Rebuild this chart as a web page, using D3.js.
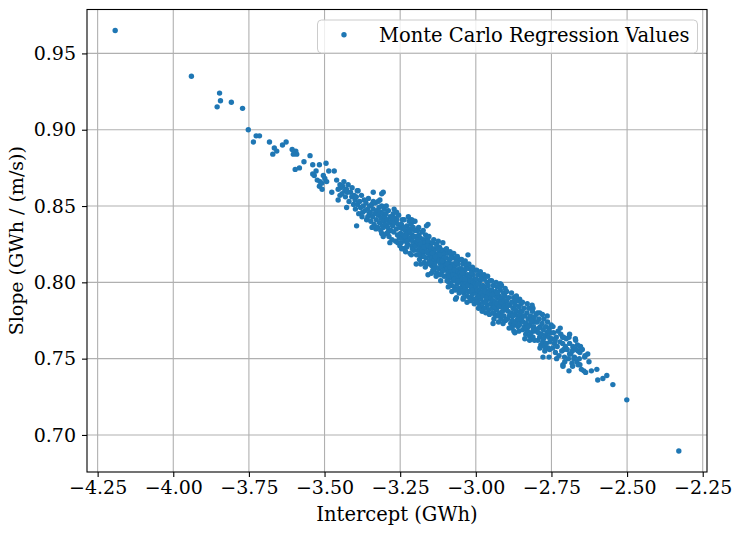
<!DOCTYPE html>
<html><head><meta charset="utf-8">
<script src="https://cdn.jsdelivr.net/npm/d3@7"></script>
<style>body{margin:0;background:#fff} text{font-family:"DejaVu Serif",serif;fill:#000}</style>
</head><body><svg id="c" width="743" height="533"></svg>
<script>
// [intercept (GWh), slope (GWh/(m/s))]
const upperLeftTail = [[-4.192,0.965],[-3.940,0.935],[-3.847,0.924],[-3.844,0.919],[-3.855,0.915],[-3.808,0.918],[-3.771,0.914],[-3.752,0.900],[-3.735,0.892],[-3.726,0.896],[-3.715,0.896],[-3.682,0.892],[-3.666,0.888],[-3.671,0.884],[-3.658,0.886],[-3.639,0.890],[-3.627,0.892],[-3.607,0.887],[-3.595,0.886],[-3.592,0.884],[-3.603,0.884],[-3.548,0.883],[-3.568,0.879],[-3.597,0.874],[-3.583,0.875],[-3.539,0.877],[-3.517,0.877],[-3.495,0.878],[-3.539,0.871],[-3.534,0.870],[-3.524,0.867],[-3.528,0.873],[-3.515,0.866],[-3.509,0.865],[-3.517,0.863],[-3.508,0.861],[-3.493,0.866],[-3.499,0.868],[-3.504,0.870],[-3.486,0.873],[-3.468,0.873],[-3.476,0.859],[-3.460,0.867],[-3.449,0.864],[-3.440,0.863],[-3.455,0.861],[-3.433,0.860],[-3.422,0.864],[-3.425,0.859],[-3.449,0.857],[-3.455,0.854],[-3.427,0.849],[-3.410,0.856],[-3.399,0.854],[-3.389,0.860],[-3.394,0.837],[-3.339,0.859],[-3.306,0.859],[-3.317,0.854],[-3.339,0.853],[-3.311,0.858],[-3.330,0.835],[-3.306,0.836],[-3.311,0.832],[-3.306,0.830]];
const bandOutliers = [[-3.212,0.841],[-3.201,0.840],[-3.163,0.837],[-3.251,0.824],[-3.207,0.823],[-3.158,0.838],[-3.026,0.818],[-3.158,0.805],[-3.130,0.805],[-3.064,0.790],[-2.915,0.798],[-2.855,0.789],[-2.921,0.799],[-3.067,0.789],[-3.042,0.789],[-2.943,0.773],[-2.871,0.767],[-2.789,0.780],[-2.811,0.783]];
const bandUpper = [
[-3.447,0.862],[-3.442,0.858],[-3.436,0.866],[-3.431,0.856],[-3.428,0.861],[-3.419,0.853],[-3.414,0.859],[-3.409,0.862],[-3.404,0.851],[-3.402,0.857],
[-3.398,0.848],[-3.395,0.856],[-3.391,0.851],[-3.387,0.845],[-3.384,0.853],[-3.381,0.849],[-3.378,0.857],[-3.376,0.843],[-3.372,0.850],[-3.369,0.854],[-3.366,0.847],[-3.363,0.852],[-3.361,0.841],[-3.358,0.848],[-3.355,0.855],[-3.352,0.845],[-3.351,0.850],[-3.392,0.860],[-3.374,0.846],[-3.357,0.843],
[-3.349,0.846],[-3.347,0.840],[-3.344,0.851],[-3.341,0.843],[-3.339,0.848],[-3.336,0.838],[-3.334,0.845],[-3.332,0.852],[-3.329,0.841],[-3.327,0.847],[-3.325,0.836],[-3.322,0.844],[-3.320,0.849],[-3.318,0.839],[-3.316,0.846],[-3.313,0.842],[-3.311,0.850],[-3.309,0.837],[-3.307,0.845],[-3.305,0.840],[-3.303,0.848],[-3.301,0.843],[-3.343,0.836],[-3.323,0.853],[-3.314,0.834],
[-3.299,0.838],[-3.297,0.845],[-3.295,0.832],[-3.293,0.841],[-3.291,0.836],[-3.289,0.847],[-3.287,0.830],[-3.285,0.839],[-3.283,0.843],[-3.281,0.834],[-3.279,0.840],[-3.277,0.828],[-3.275,0.837],[-3.273,0.845],[-3.271,0.833],[-3.269,0.839],[-3.267,0.842],[-3.265,0.827],[-3.263,0.835],[-3.261,0.841],[-3.259,0.831],[-3.257,0.838],[-3.255,0.844],[-3.253,0.829],[-3.251,0.836],[-3.296,0.850],[-3.284,0.826],[-3.270,0.848],[-3.262,0.846],[-3.258,0.826],[-3.290,0.833],[-3.276,0.842],
[-3.249,0.832],[-3.247,0.826],[-3.246,0.838],[-3.244,0.829],[-3.242,0.835],[-3.240,0.822],[-3.239,0.831],[-3.237,0.841],[-3.235,0.827],[-3.233,0.834],[-3.232,0.820],[-3.230,0.830],[-3.228,0.837],[-3.226,0.825],[-3.225,0.832],[-3.223,0.843],[-3.221,0.828],[-3.219,0.835],[-3.218,0.819],[-3.216,0.829],[-3.214,0.838],[-3.212,0.824],[-3.211,0.831],[-3.209,0.827],[-3.207,0.836],[-3.205,0.821],[-3.204,0.830],[-3.202,0.834],[-3.201,0.825],[-3.245,0.822],[-3.238,0.836],[-3.229,0.823],[-3.220,0.840],[-3.213,0.818],[-3.206,0.840],[-3.234,0.830],[-3.217,0.833],[-3.210,0.822],[-3.243,0.841],[-3.227,0.827]];
const bandMiddle = [
[-3.199,0.824],[-3.198,0.830],[-3.196,0.818],[-3.195,0.827],[-3.193,0.834],[-3.191,0.821],[-3.190,0.826],[-3.188,0.831],[-3.186,0.815],[-3.185,0.823],[-3.183,0.829],[-3.181,0.819],[-3.180,0.825],[-3.178,0.833],[-3.176,0.817],[-3.175,0.822],[-3.173,0.828],[-3.171,0.813],[-3.170,0.820],[-3.168,0.826],[-3.166,0.831],[-3.165,0.816],[-3.163,0.823],[-3.161,0.829],[-3.160,0.812],[-3.158,0.819],[-3.156,0.825],[-3.155,0.830],[-3.153,0.814],[-3.151,0.821],[-3.197,0.812],[-3.189,0.836],[-3.182,0.812],[-3.174,0.834],[-3.167,0.810],[-3.162,0.820],[-3.157,0.827],[-3.152,0.817],[-3.184,0.826],[-3.177,0.820],[-3.169,0.823],[-3.159,0.824],[-3.192,0.828],[-3.187,0.818],[-3.172,0.817],
[-3.149,0.818],[-3.148,0.823],[-3.146,0.811],[-3.145,0.816],[-3.143,0.826],[-3.141,0.813],[-3.140,0.820],[-3.138,0.808],[-3.137,0.815],[-3.135,0.822],[-3.133,0.810],[-3.132,0.818],[-3.130,0.825],[-3.128,0.806],[-3.127,0.814],[-3.125,0.819],[-3.123,0.809],[-3.122,0.817],[-3.120,0.823],[-3.118,0.805],[-3.117,0.812],[-3.115,0.820],[-3.113,0.815],[-3.112,0.807],[-3.110,0.821],[-3.108,0.811],[-3.107,0.817],[-3.105,0.804],[-3.103,0.813],[-3.102,0.819],[-3.101,0.809],[-3.147,0.806],[-3.139,0.828],[-3.131,0.804],[-3.124,0.827],[-3.116,0.801],[-3.109,0.826],[-3.144,0.819],[-3.136,0.812],[-3.129,0.816],[-3.121,0.814],[-3.114,0.810],[-3.106,0.816],[-3.142,0.808],[-3.126,0.822],[-3.119,0.818],[-3.111,0.814],[-3.134,0.817],[-3.104,0.808],[-3.150,0.813],
[-3.099,0.811],[-3.098,0.816],[-3.096,0.804],[-3.095,0.809],[-3.093,0.819],[-3.092,0.806],[-3.090,0.813],[-3.089,0.800],[-3.087,0.808],[-3.086,0.815],[-3.084,0.803],[-3.083,0.811],[-3.081,0.818],[-3.080,0.798],[-3.078,0.806],[-3.077,0.812],[-3.075,0.801],[-3.074,0.809],[-3.072,0.816],[-3.071,0.797],[-3.069,0.805],[-3.068,0.811],[-3.066,0.802],[-3.065,0.808],[-3.063,0.814],[-3.062,0.799],[-3.060,0.806],[-3.059,0.812],[-3.057,0.796],[-3.056,0.803],[-3.054,0.809],[-3.053,0.815],[-3.051,0.800],[-3.097,0.822],[-3.091,0.797],[-3.085,0.820],[-3.079,0.794],[-3.073,0.819],[-3.067,0.795],[-3.061,0.817],[-3.055,0.793],[-3.094,0.812],[-3.088,0.804],[-3.082,0.807],[-3.076,0.805],[-3.070,0.808],[-3.064,0.804],[-3.058,0.807],[-3.052,0.806],[-3.095,0.801],[-3.083,0.816],[-3.071,0.802],[-3.059,0.801],[-3.086,0.810],[-3.066,0.813],
[-3.049,0.804],[-3.048,0.809],[-3.046,0.797],[-3.045,0.802],[-3.043,0.812],[-3.042,0.799],[-3.040,0.806],[-3.039,0.793],[-3.037,0.801],[-3.036,0.808],[-3.034,0.796],[-3.033,0.804],[-3.031,0.811],[-3.030,0.791],[-3.028,0.799],[-3.027,0.805],[-3.025,0.794],[-3.024,0.802],[-3.022,0.809],[-3.021,0.790],[-3.019,0.798],[-3.018,0.804],[-3.016,0.795],[-3.015,0.801],[-3.013,0.807],[-3.012,0.792],[-3.010,0.799],[-3.009,0.805],[-3.007,0.789],[-3.006,0.796],[-3.004,0.802],[-3.003,0.808],[-3.001,0.793],[-3.047,0.815],[-3.041,0.790],[-3.035,0.814],[-3.029,0.787],[-3.023,0.812],[-3.017,0.788],[-3.011,0.810],[-3.005,0.786],[-3.044,0.806],[-3.038,0.798],[-3.032,0.800],[-3.026,0.798],[-3.020,0.801],[-3.014,0.797],[-3.008,0.800],[-3.002,0.799],[-3.046,0.794],[-3.033,0.809],[-3.020,0.794],[-3.009,0.795],[-3.036,0.802],[-3.015,0.806]];
const bandLower = [
[-2.999,0.797],[-2.998,0.802],[-2.996,0.790],[-2.995,0.795],[-2.993,0.805],[-2.992,0.792],[-2.990,0.799],[-2.989,0.786],[-2.987,0.794],[-2.986,0.801],[-2.984,0.789],[-2.983,0.797],[-2.981,0.804],[-2.980,0.784],[-2.978,0.792],[-2.977,0.798],[-2.975,0.787],[-2.974,0.795],[-2.972,0.802],[-2.971,0.783],[-2.969,0.791],[-2.968,0.797],[-2.966,0.788],[-2.965,0.794],[-2.963,0.800],[-2.962,0.785],[-2.960,0.792],[-2.959,0.798],[-2.957,0.782],[-2.956,0.789],[-2.954,0.795],[-2.953,0.801],[-2.951,0.786],[-2.997,0.808],[-2.991,0.783],[-2.985,0.807],[-2.979,0.781],[-2.973,0.805],[-2.967,0.780],[-2.961,0.804],[-2.955,0.779],[-2.994,0.799],[-2.988,0.791],[-2.982,0.793],[-2.976,0.791],[-2.970,0.794],[-2.964,0.790],[-2.958,0.793],[-2.952,0.792],[-2.995,0.787],[-2.983,0.802],[-2.970,0.787],
[-2.949,0.790],[-2.947,0.795],[-2.946,0.783],[-2.944,0.788],[-2.942,0.798],[-2.941,0.785],[-2.939,0.792],[-2.937,0.779],[-2.936,0.787],[-2.934,0.794],[-2.932,0.782],[-2.931,0.790],[-2.929,0.797],[-2.927,0.778],[-2.926,0.785],[-2.924,0.791],[-2.922,0.780],[-2.921,0.788],[-2.919,0.795],[-2.917,0.776],[-2.916,0.784],[-2.914,0.790],[-2.912,0.781],[-2.911,0.787],[-2.909,0.793],[-2.907,0.778],[-2.906,0.785],[-2.904,0.791],[-2.902,0.775],[-2.901,0.782],[-2.948,0.801],[-2.940,0.776],[-2.933,0.800],[-2.925,0.774],[-2.918,0.799],[-2.910,0.773],[-2.903,0.796],[-2.945,0.792],[-2.938,0.784],[-2.930,0.786],[-2.923,0.784],[-2.915,0.787],[-2.908,0.783],[-2.943,0.780],[-2.928,0.793],[-2.913,0.778],[-2.905,0.788],
[-2.899,0.783],[-2.897,0.788],[-2.895,0.776],[-2.893,0.781],[-2.891,0.790],[-2.889,0.778],[-2.887,0.785],[-2.885,0.773],[-2.883,0.780],[-2.881,0.787],[-2.879,0.775],[-2.877,0.783],[-2.875,0.790],[-2.873,0.772],[-2.871,0.779],[-2.869,0.785],[-2.867,0.774],[-2.865,0.781],[-2.863,0.788],[-2.861,0.771],[-2.859,0.778],[-2.857,0.784],[-2.855,0.775],[-2.853,0.781],[-2.851,0.786],[-2.898,0.794],[-2.890,0.770],[-2.882,0.793],[-2.874,0.768],[-2.866,0.791],[-2.858,0.768],[-2.894,0.785],[-2.886,0.779],[-2.878,0.778],[-2.870,0.782],[-2.862,0.776],[-2.854,0.779],[-2.880,0.770],[-2.868,0.788],[-2.856,0.772],
[-2.849,0.776],[-2.847,0.781],[-2.845,0.769],[-2.843,0.774],[-2.841,0.783],[-2.839,0.771],[-2.837,0.778],[-2.835,0.766],[-2.833,0.773],[-2.831,0.780],[-2.829,0.768],[-2.827,0.776],[-2.825,0.783],[-2.823,0.765],[-2.821,0.772],[-2.819,0.778],[-2.817,0.767],[-2.815,0.774],[-2.813,0.781],[-2.811,0.764],[-2.809,0.771],[-2.807,0.777],[-2.805,0.768],[-2.803,0.774],[-2.801,0.779],[-2.846,0.787],[-2.838,0.763],[-2.830,0.786],[-2.822,0.762],[-2.814,0.785],[-2.806,0.762],[-2.842,0.778],[-2.834,0.770],[-2.826,0.771],[-2.818,0.775],[-2.810,0.769],
[-2.799,0.769],[-2.797,0.774],[-2.795,0.762],[-2.793,0.767],[-2.791,0.776],[-2.789,0.764],[-2.787,0.771],[-2.785,0.759],[-2.783,0.766],[-2.781,0.773],[-2.779,0.761],[-2.777,0.769],[-2.775,0.776],[-2.773,0.758],[-2.771,0.765],[-2.769,0.771],[-2.767,0.760],[-2.765,0.767],[-2.763,0.774],[-2.761,0.757],[-2.759,0.764],[-2.757,0.770],[-2.755,0.761],[-2.753,0.767],[-2.751,0.772],[-2.796,0.780],[-2.788,0.757],[-2.780,0.779],[-2.772,0.755],[-2.764,0.778],[-2.756,0.756],[-2.792,0.770],[-2.776,0.763],[-2.760,0.768],
[-2.749,0.763],[-2.746,0.757],[-2.743,0.767],[-2.740,0.760],[-2.737,0.754],[-2.734,0.764],[-2.731,0.758],[-2.728,0.768],[-2.725,0.752],[-2.722,0.761],[-2.719,0.766],[-2.716,0.755],[-2.713,0.760],[-2.710,0.764],[-2.707,0.751],[-2.704,0.758],[-2.701,0.763],[-2.745,0.771],[-2.733,0.750],[-2.721,0.770],[-2.709,0.756],[-2.738,0.762],
[-2.698,0.756],[-2.694,0.750],[-2.690,0.760],[-2.686,0.753],[-2.682,0.747],[-2.678,0.757],[-2.674,0.751],[-2.670,0.762],[-2.666,0.748],[-2.662,0.755],[-2.658,0.750],[-2.654,0.758],[-2.692,0.764],[-2.680,0.745],[-2.668,0.756],[-2.656,0.746]];
const lowerRightTail = [[-2.778,0.751],[-2.758,0.751],[-2.671,0.763],[-2.640,0.751],[-2.692,0.742],[-2.651,0.743],[-2.643,0.742],[-2.637,0.741],[-2.618,0.742],[-2.600,0.743],[-2.597,0.736],[-2.580,0.737],[-2.567,0.739],[-2.547,0.733],[-2.501,0.723],[-2.329,0.6895],[-2.639,0.752],[-2.626,0.748],[-2.712,0.746],[-2.664,0.759],[-2.656,0.754],[-2.676,0.750],[-2.681,0.755],[-2.662,0.746],[-2.648,0.756],[-2.630,0.753],[-2.713,0.764],[-2.690,0.766],[-2.679,0.758],[-2.690,0.753],[-2.706,0.748],[-2.712,0.745]];

const xTicks = [-4.25,-4.00,-3.75,-3.50,-3.25,-3.00,-2.75,-2.50,-2.25];
const yTicks = [0.70,0.75,0.80,0.85,0.90,0.95];
const xLabel = "Intercept (GWh)";
const yLabel = "Slope (GWh / (m/s))";
const seriesLabel = "Monte Carlo Regression Values";
const color = "#1f77b4";

const points = [].concat(upperLeftTail, bandOutliers, bandUpper, bandMiddle, bandLower, lowerRightTail);

const L = 87, R = 707, T = 9.5, B = 472;
const pad = (e) => { const d = e[1]-e[0]; return [e[0]-0.05*d, e[1]+0.05*d]; };
const x = d3.scaleLinear().domain(pad(d3.extent(points, d=>d[0]))).range([L, R]);
const y = d3.scaleLinear().domain(pad(d3.extent(points, d=>d[1]))).range([B, T]);

const svg = d3.select("#c");
svg.append("rect").attr("width",743).attr("height",533).attr("fill","#fff");

const tickFs = 19, labelFs = 19.5;
// grid
const g = svg.append("g");
g.selectAll(".gx").data(xTicks).join("line")
  .attr("x1",d=>x(d)).attr("x2",d=>x(d)).attr("y1",T).attr("y2",B)
  .attr("stroke","#b0b0b0").attr("stroke-width",1.1);
g.selectAll(".gy").data(yTicks).join("line")
  .attr("y1",d=>y(d)).attr("y2",d=>y(d)).attr("x1",L).attr("x2",R)
  .attr("stroke","#b0b0b0").attr("stroke-width",1.1);

// points
svg.append("g").selectAll("circle").data(points).join("circle")
  .attr("cx",d=>x(d[0])).attr("cy",d=>y(d[1])).attr("r",2.7).attr("fill",color);

// axes
const fmt = d => d3.format(".2f")(d).replace("-", "\u2212");
const xAxis = d3.axisBottom(x).tickValues(xTicks).tickFormat(fmt).tickSize(5).tickPadding(4);
const yAxis = d3.axisLeft(y).tickValues(yTicks).tickFormat(d3.format(".2f")).tickSize(5).tickPadding(6);
const ax = svg.append("g").attr("transform",`translate(0,${B})`).call(xAxis);
const ay = svg.append("g").attr("transform",`translate(${L},0)`).call(yAxis);
[ax, ay].forEach(a => {
  a.select(".domain").remove();
  a.selectAll(".tick line").attr("stroke","#000").attr("stroke-width",1.1);
  a.selectAll(".tick text").attr("font-family","DejaVu Serif").attr("font-size",tickFs).attr("fill","#000");
});
// frame
svg.append("rect").attr("x",L).attr("y",T).attr("width",R-L).attr("height",B-T)
  .attr("fill","none").attr("stroke","#000").attr("stroke-width",1.1);

// labels
svg.append("text").attr("x",(L+R)/2).attr("y",521).attr("text-anchor","middle")
  .attr("font-size",labelFs).text(xLabel);
svg.append("text").attr("transform",`translate(23,${(T+B)/2}) rotate(-90)`).attr("text-anchor","middle")
  .attr("font-size",19).text(yLabel);

// legend
const lg = svg.append("g");
lg.append("rect").attr("x",317.5).attr("y",20).attr("width",380).attr("height",33).attr("rx",4)
  .attr("fill","#fff").attr("fill-opacity",0.8).attr("stroke","#cccccc").attr("stroke-width",1);
lg.append("circle").attr("cx",344).attr("cy",34.7).attr("r",2.7).attr("fill",color);
lg.append("text").attr("x",379).attr("y",41.5).attr("font-size",labelFs).text(seriesLabel);
</script></body></html>
